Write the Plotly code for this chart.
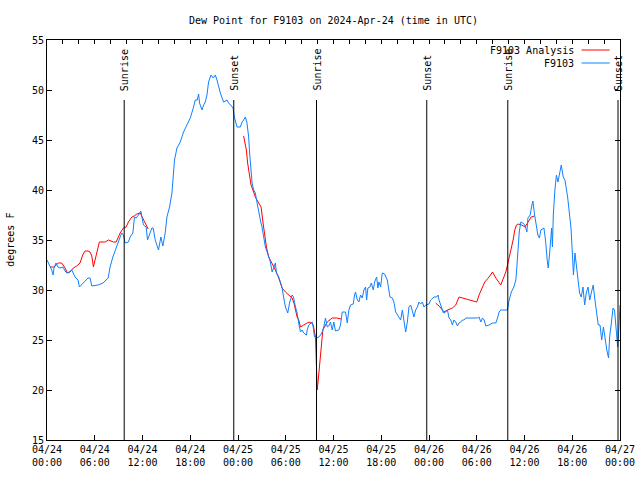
import datetime as dt
import plotly.graph_objects as go

START = dt.datetime(2024, 4, 24, 0, 0)
END = dt.datetime(2024, 4, 27, 0, 0)

# F9103 observations: hours after 2024-04-24 00:00 UTC, dew point (F)
obs_hours = [0.0, 0.38, 0.59, 0.76, 0.88, 1.13, 1.38, 1.64, 2.0, 2.27, 2.48, 2.77, 3.11, 3.52, 3.9, 4.07, 4.53, 5.16, 5.41, 5.63,
             6.42, 7.05, 7.68, 7.93, 8.27, 8.56, 8.85, 9.19, 9.40, 9.60, 9.82, 10.23, 10.45, 10.79, 10.99, 11.2, 11.49, 11.79,
             12.12, 12.46, 12.63, 12.97, 13.18, 13.34, 13.6, 14.01, 14.31, 14.56, 14.85, 15.07, 15.4, 15.7, 15.9, 16.02, 16.33,
             16.74, 17.16, 17.59, 18.0, 18.42, 18.63, 18.88, 19.05, 19.17, 19.47, 19.68, 19.89, 20.1, 20.3, 20.61, 20.9, 21.15,
             21.36, 21.78, 21.99, 22.19, 22.62, 22.82, 23.07, 23.38, 23.54, 23.88, 24.3, 24.51, 24.71, 24.92, 25.11, 25.34,
             25.46, 25.64, 25.77, 25.97, 26.18, 26.4, 26.6, 26.81, 27.02, 27.23, 27.44, 27.66, 27.86, 28.07, 28.29, 28.49,
             28.7, 28.83, 29.12, 29.33, 29.54, 29.75, 29.96, 30.25, 30.5, 30.8, 30.97, 31.22, 31.43, 31.63, 31.85, 32.06,
             32.26, 32.6, 32.69, 32.89, 33.11, 33.32, 33.45, 33.61, 33.86, 34.15, 34.37, 34.58, 34.78, 34.99, 35.21, 35.41,
             35.62, 35.84, 36.04, 36.25, 36.67, 36.88, 37.1, 37.51, 37.73, 37.93, 38.14, 38.48, 38.65, 38.77, 38.99, 39.19,
             39.4, 39.61, 39.82, 40.03, 40.16, 40.32, 40.57, 40.75, 41.0, 41.16, 41.42, 41.58, 41.7, 41.92, 42.13, 42.42,
             42.76, 42.96, 43.09, 43.39, 43.59, 43.81, 44.02, 44.22, 44.44, 44.65, 44.85, 45.07, 45.28, 45.48, 45.7, 45.91,
             46.11, 46.32, 46.54, 46.74, 46.95, 47.17, 47.37, 47.58, 48.0, 48.21, 48.63, 48.97, 49.13, 49.26, 49.47, 49.69,
             49.81, 50.1, 50.32, 50.52, 50.73, 50.94, 51.14, 51.36, 51.57, 51.77, 51.99, 52.2, 52.4, 52.62, 53.03, 53.46,
             53.87, 54.09, 54.29, 54.51, 54.72, 54.93, 55.14, 55.55, 55.98, 56.4, 56.61, 56.81, 57.02, 57.44, 57.86, 58.07,
             58.35, 58.66, 58.91, 59.04, 59.22, 59.34, 59.54, 59.79, 60.04, 60.3, 60.43, 60.71, 60.93, 61.05, 61.27, 61.43,
             61.68, 61.87, 62.06, 62.44, 62.64, 62.85, 62.98, 63.19, 63.41, 63.51, 63.62, 63.82, 64.01, 64.2, 64.45, 64.62,
             64.87, 65.08, 65.42, 65.63, 65.84, 66.06, 66.15, 66.34, 66.59, 66.72, 66.92, 67.13, 67.35, 67.56, 67.76, 67.98,
             68.2, 68.42, 68.63, 68.85, 69.06, 69.27, 69.49, 69.7, 69.92, 70.12, 70.34, 70.56, 70.7, 70.91, 71.12, 71.31,
             71.5, 71.71, 71.88, 72.0]
obs_values = [33.0, 32.4, 32.0, 31.5, 32.2, 32.7, 32.3, 32.2, 32.3, 31.9, 31.7, 31.8, 32.0, 31.3, 31.0, 30.3, 30.7, 31.2, 31.2, 30.4,
              30.5, 30.7, 31.2, 32.3, 33.3, 34.0, 34.7, 35.3, 35.7, 35.5, 34.7, 34.8, 35.3, 35.7, 37.3, 37.2, 37.5, 37.9,
              36.5, 36.3, 35.0, 35.8, 36.2, 36.2, 35.0, 34.0, 35.3, 34.4, 35.7, 37.3, 38.3, 39.7, 41.3, 43.0, 44.2,
              44.8, 45.8, 46.5, 47.2, 48.3, 49.0, 49.0, 49.6, 48.7, 48.0, 48.5, 48.8, 49.5, 50.8, 51.5, 51.2, 51.5,
              51.0, 49.7, 49.3, 48.8, 49.0, 48.7, 48.5, 48.2, 47.3, 46.3, 46.3, 46.8, 47.0, 47.3, 46.8, 45.3,
              43.7, 42.0, 40.7, 40.0, 39.7, 38.7, 37.7, 37.0, 36.3, 35.3, 34.3, 33.8, 33.3, 32.8, 31.8, 32.3,
              32.7, 31.7, 31.3, 30.8, 30.2, 29.2, 28.3, 27.7, 28.8, 29.5, 29.3, 28.3, 27.7, 26.7, 25.8, 26.0,
              25.7, 25.5, 26.0, 26.5, 26.7, 26.8, 26.3, 25.3, 25.2, 25.3, 25.5, 25.8, 26.3, 27.2, 26.3, 26.4,
              26.8, 26.0, 26.8, 25.9, 26.0, 26.5, 27.8, 27.8, 26.7, 28.0, 28.5, 28.6, 29.5, 29.8, 29.0, 28.8,
              29.5, 29.2, 30.0, 30.3, 29.0, 30.2, 30.3, 30.7, 30.0, 30.8, 31.3, 30.2, 30.8, 30.3, 31.7, 31.6,
              31.0, 30.0, 29.3, 29.2, 28.8, 27.8, 27.5, 27.3, 27.0, 28.0, 26.7, 25.8, 26.8, 28.3, 28.5, 27.8,
              27.3, 28.0, 28.3, 28.8, 28.6, 28.8, 28.3, 28.5, 28.6, 29.0, 29.3, 29.3, 29.5, 29.0, 28.5, 28.2,
              27.7, 27.8, 28.0, 27.2, 27.0, 26.5, 27.0, 26.8, 26.4, 26.7, 26.8, 27.0, 27.0, 27.2, 27.2, 27.2,
              27.2, 27.2, 27.3, 26.8, 27.2, 27.0, 26.4, 26.5, 26.7, 26.7, 27.2, 27.8, 28.0, 28.0, 28.0, 29.0,
              29.8, 30.3, 31.0, 32.3, 34.7, 35.8, 36.8, 36.7, 36.5, 35.8, 37.2, 37.5, 38.5, 38.9, 37.5, 36.5,
              35.5, 35.2, 36.0, 36.2, 35.0, 33.0, 32.2, 34.0, 36.2, 34.3, 37.5, 40.0, 41.5, 40.8, 41.7, 42.5,
              41.3, 41.0, 39.3, 38.0, 36.2, 33.0, 31.5, 33.7, 31.7, 30.7, 29.7, 29.3, 30.3, 28.5, 29.7, 30.3,
              29.0, 29.8, 30.5, 29.0, 27.7, 26.5, 26.5, 25.0, 26.3, 25.0, 24.0, 23.2, 25.3, 26.7, 28.2, 28.0,
              25.7, 24.3, 26.5, 28.5]

# F9103 Analysis: three segments (hours after start, dew point F)
ana_hours_1 = [0.38, 0.88, 1.42, 1.85, 2.27, 2.56, 2.9, 3.31, 3.74, 4.15, 4.49, 4.78, 5.16, 5.41, 5.63, 5.83, 6.04, 6.26,
               6.58, 6.92, 7.3, 7.72, 8.06, 8.35, 8.69, 8.9, 9.19, 9.6, 9.94, 10.23, 10.66, 10.95, 11.29, 11.71, 12.12,
               12.55, 12.71]
ana_values_1 = [32.3, 32.3, 32.7, 32.7, 32.2, 31.7, 31.8, 32.2, 32.4, 32.7, 33.5, 33.9, 33.9, 33.8, 33.4, 32.3, 33.0, 33.7,
                34.8, 34.8, 34.8, 35.0, 34.9, 34.8, 34.8, 35.2, 35.7, 36.2, 36.3, 36.8, 37.3, 37.4, 37.6, 37.7, 37.0,
                36.2, 36.1]
ana_hours_2 = [24.71, 25.05, 25.21, 25.47, 25.64, 25.87, 26.18, 26.6, 26.9, 27.15, 27.35, 27.57, 27.86, 28.29, 28.7, 29.12,
               29.54, 29.96, 30.37, 30.8, 31.03, 31.22, 31.43, 31.63, 31.85, 32.26, 32.69, 33.11, 33.45, 33.74, 33.83,
               33.95, 34.08, 34.24, 34.45, 34.66, 35.21, 35.84, 36.38, 36.97]
ana_values_2 = [45.4, 44.0, 42.7, 41.3, 40.5, 40.0, 39.3, 38.7, 38.3, 36.7, 35.3, 34.3, 33.3, 32.7, 32.0, 31.2,
                30.2, 29.8, 29.5, 29.2, 28.7, 28.0, 27.3, 27.0, 26.3, 26.5, 26.7, 26.8, 26.5, 25.3, 23.3,
                20.0, 21.0, 22.3, 24.2, 26.0, 26.8, 27.2, 27.2, 27.1]
ana_hours_3 = [48.84, 49.38, 49.89, 50.32, 50.94, 51.36, 51.77, 52.24, 52.83, 53.37, 54.0, 54.29, 54.72, 55.01, 55.55,
               55.98, 56.4, 56.81, 57.02, 57.36, 57.65, 57.86, 58.28, 58.57, 58.78, 58.99, 59.2, 59.64, 60.07, 60.5,
               60.84, 61.27]
ana_values_3 = [28.7, 28.3, 27.8, 28.0, 28.2, 28.5, 29.3, 29.2, 29.1, 29.0, 28.8, 29.5, 30.3, 30.8, 31.3,
                31.8, 31.2, 30.7, 30.5, 31.2, 31.8, 32.5, 33.8, 35.0, 36.0, 36.5, 36.6, 36.5, 36.3, 36.8,
                37.3, 37.4]

sun_times = ["2024-04-24 09:42", "2024-04-24 23:28", "2024-04-25 09:52",
             "2024-04-25 23:43", "2024-04-26 09:54", "2024-04-26 23:45"]
sun_labels = ["Sunrise", "Sunset", "Sunrise", "Sunset", "Sunrise", "Sunset"]

tick_hours = list(range(0, 73, 6))
tick_labels = ["04/24<br>00:00", "04/24<br>06:00", "04/24<br>12:00", "04/24<br>18:00",
               "04/25<br>00:00", "04/25<br>06:00", "04/25<br>12:00", "04/25<br>18:00",
               "04/26<br>00:00", "04/26<br>06:00", "04/26<br>12:00", "04/26<br>18:00",
               "04/27<br>00:00"]


def to_time(h):
    return None if h is None else START + dt.timedelta(hours=h)


ana_hours = ana_hours_1 + [None] + ana_hours_2 + [None] + ana_hours_3
ana_values = ana_values_1 + [None] + ana_values_2 + [None] + ana_values_3

FONT = dict(family="DejaVu Sans Mono", size=10, color="black")
RED = "#ff0000"
BLUE = "#0f80ff"

fig = go.Figure()
fig.add_trace(go.Scatter(x=[to_time(h) for h in ana_hours], y=ana_values, mode="lines",
                         line=dict(color=RED, width=1), connectgaps=False, name="F9103 Analysis",
                         showlegend=False))
fig.add_trace(go.Scatter(x=[to_time(h) for h in obs_hours], y=obs_values, mode="lines",
                         line=dict(color=BLUE, width=1), name="F9103", showlegend=False))

# hidden trace for top tick axis
fig.add_trace(go.Scatter(x=[START, END], y=[None, None], xaxis="x2", showlegend=False,
                         hoverinfo="skip"))

shapes = []
annotations = []
for t, lab in zip(sun_times, sun_labels):
    shapes.append(dict(type="line", xref="x", yref="y", x0=t, x1=t, y0=15, y1=49,
                       line=dict(color="black", width=1)))
    annotations.append(dict(x=t, y=49.7, xref="x", yref="y", text=lab, textangle=-90,
                            xanchor="center", yanchor="bottom", showarrow=False, font=FONT))

# legend (gnuplot style: text then sample)
for i, (name, col) in enumerate([("F9103 Analysis", RED), ("F9103", BLUE)]):
    ypos = 0.975 - i * 0.0325
    annotations.append(dict(x=0.923, y=ypos, xref="paper", yref="paper", text=name,
                            xanchor="right", yanchor="middle", showarrow=False, font=FONT))
    shapes.append(dict(type="line", xref="paper", yref="paper", x0=0.933, x1=0.982,
                       y0=ypos, y1=ypos, line=dict(color=col, width=1)))

annotations.append(dict(x=-0.065, y=0.5, xref="paper", yref="paper", text="degrees F",
                        textangle=-90, xanchor="center", yanchor="middle", showarrow=False, font=FONT))

fig.update_layout(
    width=640, height=480,
    margin=dict(l=47, r=20, t=40, b=40, autoexpand=False),
    paper_bgcolor="white", plot_bgcolor="white",
    title=dict(text="Dew Point for F9103 on 2024-Apr-24 (time in UTC)", font=FONT,
               x=0.5, xref="paper", xanchor="center", y=1 - 20 / 480, yref="container",
               yanchor="middle"),
    xaxis=dict(type="date", range=[START, END], tickmode="array", automargin=False,
               tickvals=[to_time(h) for h in tick_hours], ticktext=tick_labels,
               ticks="inside", ticklen=5, tickcolor="black", showline=True, linecolor="black",
               linewidth=1, mirror=True, showgrid=False, zeroline=False, tickfont=FONT),
    xaxis2=dict(type="date", range=[START, END], overlaying="x", side="top", automargin=False,
                tickmode="array", tickvals=[to_time(h) for h in range(0, 73, 2)],
                showticklabels=False, ticks="inside", ticklen=4, tickcolor="black",
                showgrid=False, zeroline=False, showline=False),
    yaxis=dict(range=[15, 55], tickmode="linear", tick0=15, dtick=5, ticks="inside", automargin=False,
               ticklen=5, tickcolor="black", showline=True, linecolor="black", linewidth=1,
               mirror="ticks", showgrid=False, zeroline=False, tickfont=FONT),
    shapes=shapes,
    annotations=annotations,
    showlegend=False,
)

fig.write_html("out.html", config={"displayModeBar": False},
               post_script="document.body.style.margin='0';document.body.style.overflow='hidden';")
